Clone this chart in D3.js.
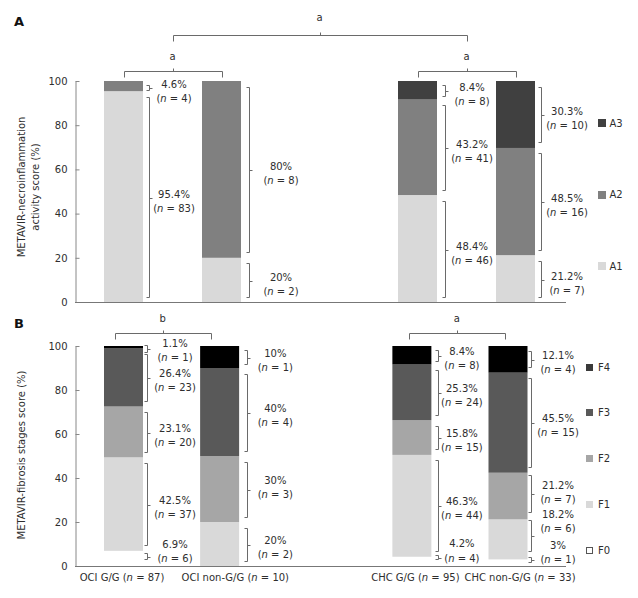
<!DOCTYPE html>
<html><head><meta charset="utf-8">
<script src="https://cdn.jsdelivr.net/npm/d3@7"></script>
<style>
body{margin:0;background:#fff}
svg text{font-family:"DejaVu Sans",Verdana,sans-serif;}
</style>
</head><body>
<svg id="chart" width="638" height="598"></svg>
<script>
// ---------------- data ----------------
const categories = ["OCI G/G", "OCI non-G/G", "CHC G/G", "CHC non-G/G"];
const groupSizes = [87, 10, 95, 33];
const yTickValues = [0, 20, 40, 60, 80, 100];

const activityGrades = ["A1", "A2", "A3"];
const activityPct = [[95.4, 4.6, 0], [20, 80, 0], [48.4, 43.2, 8.4], [21.2, 48.5, 30.3]];
const activityN   = [[83, 4, 0], [2, 8, 0], [46, 41, 8], [7, 16, 10]];

const fibrosisStages = ["F0", "F1", "F2", "F3", "F4"];
const fibrosisPct = [[6.9, 42.5, 23.1, 26.4, 1.1], [0, 20, 30, 40, 10], [4.2, 46.3, 15.8, 25.3, 8.4], [3, 18.2, 21.2, 45.5, 12.1]];
const fibrosisN   = [[6, 37, 20, 23, 1], [0, 2, 3, 4, 1], [4, 44, 15, 24, 8], [1, 6, 7, 15, 4]];

const activitySig = { overall: "a", oci: "a", chc: "a" };
const fibrosisSig = { oci: "b", chc: "a" };

// ---------------- layout / style ----------------
const activityColors = { A1: "#d9d9d9", A2: "#808080", A3: "#404040" };
const fibrosisColors = { F0: "#ffffff", F1: "#d9d9d9", F2: "#a6a6a6", F3: "#595959", F4: "#000000" };
const fibrosisLegendColors = { F0: "#ffffff", F1: "#d9d9d9", F2: "#a6a6a6", F3: "#595959", F4: "#3a3a3a" };
const textColor = "#2e2e2e";
const lineColor = "#6a6a6a";

const svg = d3.select("#chart");

function makePanel(cfg) {
  const g = svg.append("g");
  const y = d3.scaleLinear().domain([0, 100]).range([cfg.yBottom, cfg.yTop]);
  const x = d3.scalePoint()
    .domain([categories[0], categories[1], "_gap", categories[2], categories[3]])
    .range(cfg.xRange);
  const barW = 39;

  // stacked data
  const rows = categories.map((c, i) => {
    const r = { cat: c, idx: i };
    cfg.levels.forEach((l, j) => { r[l] = cfg.pct[i][j]; });
    return r;
  });
  const series = d3.stack().keys(cfg.levels)(rows);

  // bars
  series.forEach(s => {
    g.selectAll(null).data(s.filter(d => d[1] - d[0] > 0)).enter().append("rect")
      .attr("x", d => x(d.data.cat) - barW / 2)
      .attr("width", barW)
      .attr("y", d => y(d[1]))
      .attr("height", d => y(d[0]) - y(d[1]))
      .attr("fill", cfg.colors[s.key]);
  });

  // y axis
  const ax = g.append("g")
    .attr("transform", `translate(${cfg.axisX + 0.5},0)`)
    .call(d3.axisLeft(y).tickValues(yTickValues).tickSizeInner(-4).tickSizeOuter(0).tickPadding(8));
  ax.select(".domain").attr("stroke", "#888");
  ax.selectAll(".tick line").attr("stroke", "#888");
  ax.selectAll(".tick text").attr("fill", textColor).attr("font-size", 10)
    .attr("font-family", '"DejaVu Sans",Verdana,sans-serif');

  // x axis baseline
  g.append("line")
    .attr("x1", cfg.axisX).attr("x2", cfg.axisEnd)
    .attr("y1", Math.round(y(0)) + 0.5).attr("y2", Math.round(y(0)) + 0.5)
    .attr("stroke", "#777");

  // brackets and labels
  series.forEach((s, j) => {
    s.forEach((d, i) => {
      const pct = cfg.pct[i][j];
      if (!(pct > 0)) return;
      const key = `${i}-${s.key}`;
      const tw = cfg.tweaks[key] || {};
      let ya, yb;
      if (tw.br) { ya = y(tw.br[1]); yb = y(tw.br[0]); }
      else {
        const t = y(d[1]), b = y(d[0]), h = b - t;
        const inset = Math.min(5.5, h * 0.2);
        ya = t + inset; yb = b - inset;
        if (yb - ya < 6) { const m = (ya + yb) / 2; ya = m - 3; yb = m + 3; }
      }
      ya = Math.round(ya) + 0.5; yb = Math.round(yb) + 0.5;
      const mid = Math.round((ya + yb) / 2) + 0.5;
      const bx = Math.round(x(d.data.cat) + cfg.bracketDx[i]) + 0.5;
      g.append("path")
        .attr("d", `M${bx - 3},${ya}H${bx}V${yb}H${bx - 3}M${bx},${mid}H${bx + 3}`)
        .attr("fill", "none").attr("stroke", lineColor).attr("stroke-width", 1);
      const cx = x(d.data.cat) + cfg.labelDx[i];
      const c = mid + (tw.dy !== undefined ? tw.dy : cfg.defaultDy);
      g.append("text").attr("x", cx).attr("y", c - 7.5 + 3.6)
        .attr("text-anchor", "middle").attr("font-size", 10).attr("fill", textColor)
        .text(`${pct}%`);
      const t2 = g.append("text").attr("x", cx).attr("y", c + 7.5 + 3.4)
        .attr("text-anchor", "middle").attr("font-size", 10).attr("fill", textColor);
      t2.append("tspan").text("(");
      t2.append("tspan").attr("font-style", "italic").text("n");
      t2.append("tspan").text(` = ${cfg.n[i][j]})`);
    });
  });

  // significance brackets
  const oc = [x(categories[0]) + cfg.sigDx[0], x(categories[1]) + cfg.sigDx[0]];
  const cc = [x(categories[2]) + cfg.sigDx[1], x(categories[3]) + cfg.sigDx[1]];
  function sigBracket(x1, x2, yl, drop, letter, letterY) {
    const X1 = Math.round(x1) + 0.5, X2 = Math.round(x2) + 0.5, Y = Math.round(yl) + 0.5;
    const Xm = Math.round((x1 + x2) / 2) + 0.5;
    g.append("path")
      .attr("d", `M${X1},${Y + drop}V${Y}H${X2}V${Y + drop}M${Xm},${Y}V${Y - 3}`)
      .attr("fill", "none").attr("stroke", lineColor);
    g.append("text").attr("x", (x1 + x2) / 2).attr("y", letterY)
      .attr("text-anchor", "middle").attr("font-size", 10).attr("fill", textColor).text(letter);
  }
  sigBracket(oc[0], oc[1], cfg.sigY, 6, cfg.sig.oci, cfg.sigLetterY);
  sigBracket(cc[0], cc[1], cfg.sigY, 6, cfg.sig.chc, cfg.sigLetterY);
  if (cfg.sig.overall) {
    sigBracket((oc[0] + oc[1]) / 2, (cc[0] + cc[1]) / 2, cfg.topSigY, 6, cfg.sig.overall, cfg.topLetterY);
  }

  // legend
  const ly = d3.scalePoint().domain(cfg.levels.slice().reverse()).range(cfg.legendY);
  cfg.levels.forEach(l => {
    const cy = ly(l);
    g.append("rect")
      .attr("x", cfg.legendX + 0.5).attr("y", Math.round(cy - cfg.legendSq / 2) + 0.5)
      .attr("width", cfg.legendSq - 1).attr("height", cfg.legendSq - 1)
      .attr("fill", cfg.legendColors[l])
      .attr("stroke", l === "F0" ? "#555" : cfg.legendColors[l]);
    g.append("text").attr("x", cfg.legendX + cfg.legendTextDx).attr("y", cy + 3.7)
      .attr("font-size", 10).attr("fill", textColor).text(l);
  });

  // y title
  cfg.yTitle.forEach((t, k) => {
    g.append("text")
      .attr("transform", `translate(${25 + 14 * k},${cfg.yTitleY}) rotate(-90)`)
      .attr("text-anchor", "middle").attr("font-size", 10).attr("fill", textColor).text(t);
  });

  // panel letter
  g.append("text").attr("x", 14).attr("y", cfg.letterY)
    .attr("font-family", '"Liberation Sans",Arial,sans-serif').attr("font-weight", "bold")
    .attr("font-size", 13).attr("fill", "#111").text(cfg.letter);

  // category labels
  if (cfg.xLabels) {
    categories.forEach((c, i) => {
      const t = g.append("text").attr("x", x(c) + cfg.xLabelDx[i]).attr("y", cfg.xLabelY)
        .attr("text-anchor", "middle").attr("font-size", 10).attr("fill", textColor);
      t.append("tspan").text(`${c} (`);
      t.append("tspan").attr("font-style", "italic").text("n");
      t.append("tspan").text(` = ${groupSizes[i]})`);
    });
  }
}

makePanel({
  letter: "A", letterY: 26,
  levels: activityGrades, pct: activityPct, n: activityN,
  colors: activityColors, legendColors: activityColors,
  yBottom: 302, yTop: 81, xRange: [123.5, 515.5],
  axisX: 75, axisEnd: 566,
  bracketDx: [25.5, 27.5, 27.5, 25.5],
  labelDx: [50.5, 59.5, 54.5, 51.5],
  defaultDy: 3,
  tweaks: { "0-A2": { br: [95.8, 98.3], dy: 3 } },
  sig: activitySig, sigDx: [0, 0], sigY: 71, sigLetterY: 60, topSigY: 35, topLetterY: 21,
  legendX: 598, legendSq: 8, legendTextDx: 11.5, legendY: [123, 266],
  yTitle: ["METAVIR-necroinflammation", "activity score (%)"], yTitleY: 187,
  xLabels: false
});

makePanel({
  letter: "B", letterY: 328,
  levels: fibrosisStages, pct: fibrosisPct, n: fibrosisN,
  colors: fibrosisColors, legendColors: fibrosisLegendColors,
  yBottom: 566, yTop: 346, xRange: [123.5, 508],
  axisX: 75, axisEnd: 566,
  bracketDx: [23.2, 27, 25.8, 22.7],
  labelDx: [51.5, 55.7, 50, 50],
  defaultDy: 2,
  tweaks: {
    "0-F0": { br: [3.2, 5.9], dy: -6 },
    "0-F4": { br: [97.5, 100.5], dy: 1 },
    "1-F2": { dy: -3 },
    "2-F0": { br: [3, 5], dy: -7.3 },
    "3-F0": { br: [2, 4], dy: -8 },
    "3-F1": { br: [7, 20.9], dy: -15 },
    "3-F2": { br: [24.7, 41.4], dy: -2 }
  },
  sig: fibrosisSig, sigDx: [-9, -3], sigY: 333, sigLetterY: 321.5,
  legendX: 586, legendSq: 7, legendTextDx: 12, legendY: [367, 550],
  yTitle: ["METAVIR-fibrosis stages score (%)"], yTitleY: 455,
  xLabels: true, xLabelDx: [-1.5, 15.7, 3.5, 12], xLabelY: 581
});
</script>
</body></html>
